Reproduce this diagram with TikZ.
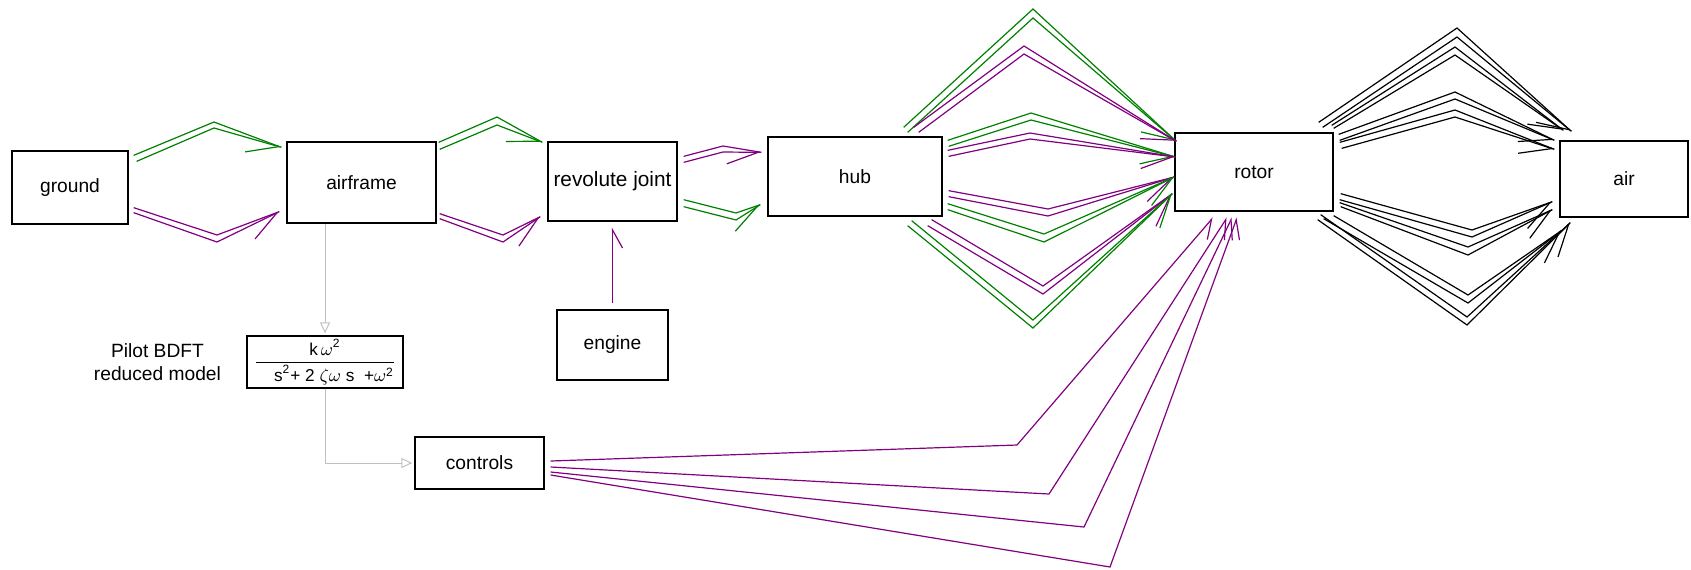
\documentclass[tikz,border=0pt]{standalone}
\usepackage{amsmath}
\usepackage{fontspec}
\setmainfont{Liberation Sans}
\usepackage{tikz}
\usetikzlibrary{arrows.meta,calc,positioning}
\definecolor{mbgreen}{RGB}{0,128,0}
\definecolor{mbpurple}{RGB}{128,0,128}
\definecolor{sigGray}{RGB}{192,192,192}
\tikzset{>={Straight Barb[harpoon,swap,length=15pt,width=17pt]},
         block/.style={draw,line width=0.65pt,inner sep=0pt,
                       font=\fontsize{9.6}{11.5}\selectfont},
         bus/.style={line width=0.6pt},
         feed/.style={mbpurple,line width=0.6pt,
                      -{Straight Barb[harpoon,swap,length=9pt,width=10pt]}},
         signal/.style={draw=sigGray,line width=0.5pt,shorten >=1pt,
                        -{Triangle[open,length=5.5pt,width=5pt]}}}
% double connector: colour, source, offsets A/B, bends A/B, target, offset
\newcommand{\flow}[8]{%
  \draw[bus,#1,->] ($(#2)+(#3)$) -- (#5) -- ($(#7)+(#8)$);
  \draw[bus,#1] ($(#2)+(#4)$) -- (#6) -- ($(#7)+(#8)$);}
\begin{document}
\begin{tikzpicture}[x=0.5pt,y=-0.5pt]
   \useasboundingbox (0,0) rectangle (1691,569);
   \node[block,minimum width=58pt,minimum height=36.5pt] (ground) at (70,187.5) {ground};
   \node[block,minimum width=74.5pt,minimum height=40.5pt] (airframe) at (361.5,182.5) {airframe};
   \node[block,minimum width=64.5pt,minimum height=39.5pt,
         font=\fontsize{10.4}{12}\selectfont] (revolute) at (612.5,181.5) {revolute joint};
   \node[block,minimum width=87pt,minimum height=39.5pt] (hub) at (855,176.5) {hub};
   \node[block,minimum width=79pt,minimum height=39pt] (rotor) at (1254,172) {rotor};
   \node[block,minimum width=64pt,minimum height=38pt] (air) at (1624,179) {air};
   \node[block,minimum width=55.5pt,minimum height=35pt] (engine) at (612.5,345) {engine};
   \node[block,minimum width=78pt,minimum height=26pt,font=\fontsize{8.6}{10}\selectfont] (pilot) at (325,362)
     {$\dfrac{\text{k\,}\omega^{\text{2}}}{\hspace{9pt}\text{s\textsuperscript{2}+ 2 }\zeta\omega\text{ s\ \ +}\omega^{\text{2}}}$};
   \node[align=center,inner sep=0pt,font=\fontsize{9.6}{11.5}\selectfont,
         left=12.5pt of pilot] (pilotlabel) {Pilot BDFT\\reduced model};
   \node[block,minimum width=64.5pt,minimum height=26pt] (controls) at (479.5,463) {controls};
   % ground -> airframe
   \flow{mbgreen}{ground.north east}{5,5}{8,11}{214,122}{214,128}{airframe.north west}{-5,6}
   \flow{mbpurple}{ground.south east}{5,-17}{5,-12}{217,235}{217,242}{airframe.south west}{-7,-12}
   % airframe -> revolute joint
   \flow{mbgreen}{airframe.north east}{2,1}{3,8}{497,117}{497,125}{revolute.north west}{-5,1}
   \flow{mbpurple}{airframe.south east}{3,-10}{3,-5}{503,235}{503,242}{revolute.south west}{-7,-5}
   % revolute joint -> hub
   \flow{mbpurple}{revolute.north east}{6,15}{6,21}{723,146}{723,152}{hub.north west}{-6,16}
   \flow{mbgreen}{revolute.south east}{6,-22}{6,-15}{736,213}{736,220}{hub.south west}{-7,-12}
   % hub -> rotor
   \flow{mbgreen}{hub.north east}{-39,-9}{-35,-4}{1033,9}{1033,18}{rotor.north west}{2,9}
   \flow{mbpurple}{hub.north east}{-29,-9}{-24,-4}{1024,46}{1024,54}{rotor.north west}{2,9}
   \flow{mbgreen}{hub.north east}{5,4}{6,10}{1031,113}{1031,120}{rotor.west}{1,-15}
   \flow{mbpurple}{hub.north east}{5,14}{6,20}{1030,133}{1030,139}{rotor.west}{1,-15}
   \flow{mbpurple}{hub.south east}{6,-26}{6,-20}{1048,209}{1048,216}{rotor.west}{0,5}
   \flow{mbgreen}{hub.south east}{5,-13}{5,-7}{1044,234}{1044,242}{rotor.west}{0,5}
   \flow{mbpurple}{hub.south east}{-11,3}{-15,9}{1043,286}{1043,294}{rotor.south west}{-2,-18}
   \flow{mbgreen}{hub.south east}{-31,4}{-35,9}{1033,320}{1033,328}{rotor.south west}{-2,-18}
   % rotor -> air
   \flow{black}{rotor.north east}{-15,-10}{-11,-5}{1457,28}{1457,37}{air.north west}{12,-9}
   \flow{black}{rotor.north east}{-2,-7}{0,-4}{1455,47}{1455,55}{air.north west}{4,-10}
   \flow{black}{rotor.north east}{5,2}{6,8}{1455,92}{1455,99}{air.north west}{-5,0}
   \flow{black}{rotor.north east}{6,10}{8,16}{1455,110}{1455,117}{air.north west}{-5,9}
   \flow{black}{rotor.south east}{7,-18}{6,-12}{1472,230}{1472,237}{air.south west}{-7,-16}
   \flow{black}{rotor.south east}{6,-9}{7,-5}{1468,247}{1468,255}{air.south west}{-7,-8}
   \flow{black}{rotor.south east}{0,4}{-10,7}{1468,295}{1468,303}{air.south west}{2,13}
   \flow{black}{rotor.south east}{-13,3}{-16,8}{1467,317}{1467,325}{air.south west}{11,5}
   % engine and controls
   \draw[feed] ($(engine.north)+(0,-6)$) -- ($(revolute.south)+(0,6)$);
   \foreach \dy/\bx/\by/\tx in {-2/1017/445/-41,4/1049/494/-27,9/1084/527/-22,12/1110/567/-17}
     \draw[feed] ($(controls.east)+(6,\dy)$) -- (\bx,\by) -- ($(rotor.south)+(\tx,6)$);
   % pilot model
   \draw[signal] (pilot.north |- airframe.south) -- (pilot.north);
   \draw[signal] (pilot.south) |- (controls.west);
\end{tikzpicture}
\end{document}
